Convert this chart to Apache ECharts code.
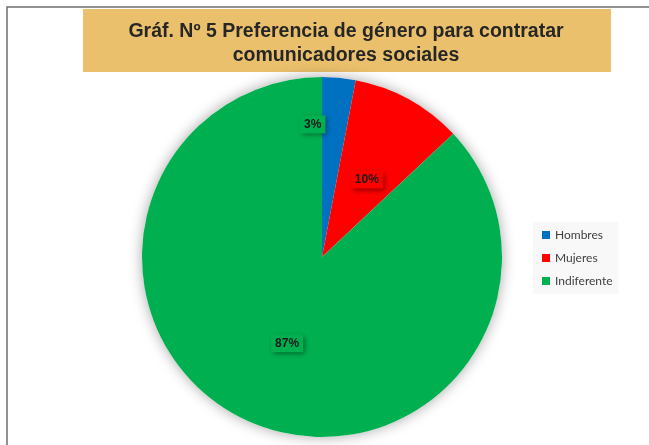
<!DOCTYPE html>
<html>
<head>
<meta charset="utf-8">
<script src="https://cdn.jsdelivr.net/npm/echarts@6/dist/echarts.min.js"></script>
<style>
html, body { margin: 0; padding: 0; background: #fff; }
#chart { width: 649px; height: 445px; }
</style>
</head>
<body>
<div id="chart"></div>
<script>
var categories = ["Hombres", "Mujeres", "Indiferente"];
var values = [3, 10, 87];
var colors = ["#0070C0", "#FF0000", "#00B050"];
var titleText = "Gráf. Nº 5 Preferencia de género para contratar\ncomunicadores sociales";

// desplazamiento de etiquetas y fondo (como en el original)
var labelShift = [[-18, -40], [0, 4], [2, 1]];
var labelBg = ["#00B050", "#FF0000", "#00B050"];

var pieData = [];
for (var i = 0; i < categories.length; i++) {
	pieData.push({
		name: categories[i],
		value: values[i],
		itemStyle: { color: colors[i] },
		label: { backgroundColor: labelBg[i] }
	});
}

var chart = echarts.init(document.getElementById('chart'));
var option = {
	animation: false,
	graphic: [
		{
			type: 'rect',
			z: -10,
			shape: { x: 7, y: 7, width: 700, height: 500 },
			style: { fill: 'none', stroke: '#6e6e6e', lineWidth: 1.5 }
		},
		{
			type: 'rect',
			z: -5,
			shape: { x: 83, y: 9, width: 528, height: 63 },
			style: { fill: '#EBC06C' }
		}
	],
	title: {
		text: titleText,
		left: 341,
		top: 15,
		textAlign: 'center',
		textStyle: {
			fontFamily: 'Liberation Sans, Arial',
			fontSize: 19.5,
			fontWeight: 'bold',
			color: '#262626',
			lineHeight: 24
		}
	},
	legend: {
		orient: 'vertical',
		left: 533,
		top: 222,
		data: categories,
		icon: 'rect',
		itemWidth: 8,
		itemHeight: 8,
		itemGap: 9,
		padding: [6, 6, 6, 9],
		backgroundColor: '#f8f8f8',
		textStyle: {
			fontFamily: 'Lato, Noto Sans',
			fontSize: 12,
			color: '#404040',
			lineHeight: 14
		}
	},
	series: [
		{
			// sombra del pastel
			type: 'pie',
			center: [322, 257],
			radius: [0, 180],
			silent: true,
			z: 1,
			data: [{ value: 1, name: 'sombra' }],
			itemStyle: {
				color: '#ffffff',
				shadowBlur: 14,
				shadowColor: 'rgba(0,0,0,0.35)'
			},
			label: { show: false },
			labelLine: { show: false }
		},
		{
			type: 'pie',
			center: [322, 257],
			radius: [0, 180],
			startAngle: 90,
			z: 2,
			data: pieData,
			label: {
				show: true,
				position: 'inside',
				formatter: '{d}%',
				fontFamily: 'Liberation Sans, Arial',
				fontSize: 12,
				fontWeight: 'bold',
				color: '#1a1a1a',
				padding: [3, 4, 3, 4],
				shadowBlur: 5,
				shadowOffsetX: 2,
				shadowOffsetY: 2,
				shadowColor: 'rgba(0,0,0,0.45)'
			},
			labelLayout: function (p) {
				return { dx: labelShift[p.dataIndex][0], dy: labelShift[p.dataIndex][1] };
			},
			labelLine: { show: false }
		}
	]
};
chart.setOption(option);
</script>
</body>
</html>
